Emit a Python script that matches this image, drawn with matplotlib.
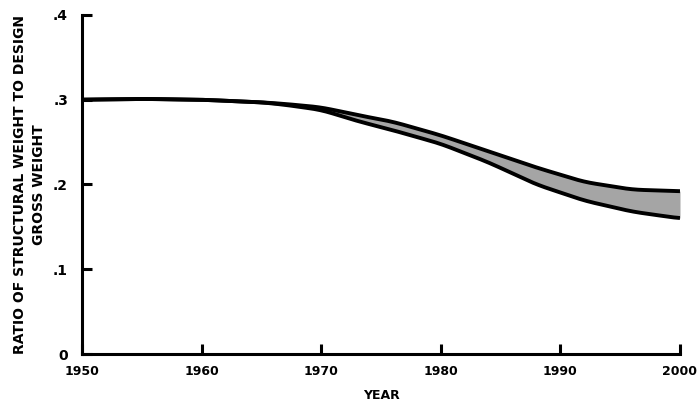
import numpy as np
import matplotlib.pyplot as plt

years = [1950, 1955, 1960, 1965, 1967, 1970, 1973, 1976, 1980, 1984, 1988, 1992, 1996, 2000]
upper = [0.300, 0.301, 0.300, 0.297, 0.295, 0.291, 0.282, 0.274, 0.258, 0.239, 0.220, 0.203, 0.194, 0.192]
lower = [0.300, 0.301, 0.300, 0.297, 0.294, 0.288, 0.275, 0.264, 0.248, 0.226, 0.200, 0.181, 0.168, 0.160]

x_ticks = [1950, 1960, 1970, 1980, 1990, 2000]
y_ticks = [0, 0.1, 0.2, 0.3, 0.4]
y_labels = ["0", ".1", ".2", ".3", ".4"]

# smooth the hand-drawn curves between the read points
xs = np.linspace(1950, 2000, 400)
up_s = np.interp(xs, years, upper)
lo_s = np.interp(xs, years, lower)
k = np.ones(15) / 15
up_s = np.convolve(np.pad(up_s, 7, mode="edge"), k, mode="valid")
lo_s = np.convolve(np.pad(lo_s, 7, mode="edge"), k, mode="valid")

font = "DejaVu Sans"

fig = plt.figure(figsize=(6.97, 4.07), dpi=100)
ax = fig.add_axes([0.1176, 0.1302, 0.858, 0.833])

ax.fill_between(xs, lo_s, up_s, color="#a5a5a5", linewidth=0)
ax.plot(xs, up_s, color="black", linewidth=2.8, solid_capstyle="butt")
ax.plot(xs, lo_s, color="black", linewidth=2.8, solid_capstyle="butt")

ax.set_xlim(1950, 2000)
ax.set_ylim(0, 0.4)
ax.set_xticks(x_ticks)
ax.set_yticks(y_ticks)
ax.set_xticklabels([str(t) for t in x_ticks], family=font, weight="bold", fontsize=9)
ax.set_yticklabels(y_labels, family=font, weight="bold", fontsize=10)

for s in ["top", "right"]:
    ax.spines[s].set_visible(False)
for s in ["left", "bottom"]:
    ax.spines[s].set_linewidth(2.2)
ax.tick_params(direction="in", length=7, width=2.2, pad=8)
ax.tick_params(axis="y", pad=10)

ax.set_xlabel("YEAR", family=font, weight="bold", fontsize=9, labelpad=8)
ax.set_ylabel("RATIO OF STRUCTURAL WEIGHT TO DESIGN\nGROSS WEIGHT", family=font,
              weight="bold", fontsize=10, labelpad=5, linespacing=1.5)

fig.savefig("out.png", dpi=100)
